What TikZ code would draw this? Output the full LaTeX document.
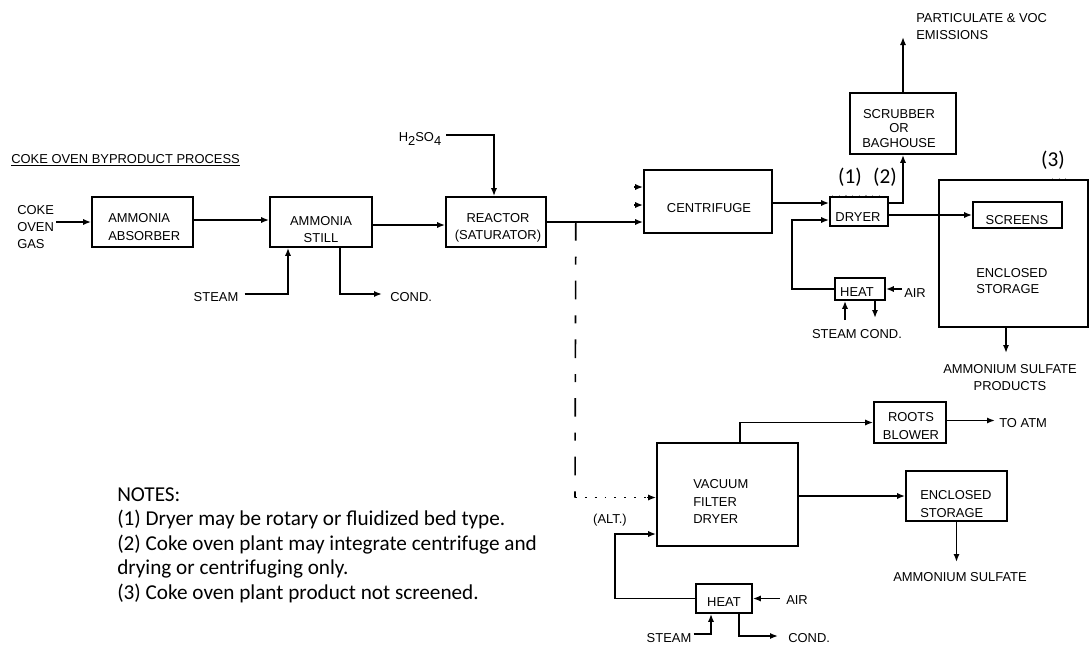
\documentclass[tikz,border=0pt]{standalone}
\usepackage{fontspec}
\setmainfont{Liberation Sans}
\newfontfamily\notesfont{Carlito}
\usetikzlibrary{arrows.meta,calc}
\begin{document}
\begin{tikzpicture}[x=0.75pt,y=-0.75pt,
 txt/.style={font=\fontsize{9.7}{13}\selectfont, inner sep=1.5pt, align=center},
 txl/.style={txt, align=left, anchor=west},
 box/.style={draw, line width=1.2pt, inner sep=0pt},
 sz/.style 2 args={minimum width=#1*0.75pt, minimum height=#2*0.75pt},
 ln/.style={line width=1.2pt},
 arr/.style={ln, -{Latex[length=6pt,width=4.6pt]}},
 dashdotln/.style={ln, dash pattern=on 14pt off 12pt on 6pt off 12pt},
 dotln/.style={line width=1.4pt, dash pattern=on 1.4pt off 6pt},
 tick/.style={gray!70, line width=0.7pt, dash pattern=on 1pt off 4pt},
 note/.style={font=\notesfont\fontsize{15.9}{18.4}\selectfont, inner sep=0pt, align=left},
]
\useasboundingbox (0,0) rectangle (1090,646);

% boxes
\node[box, sz={101}{50}] (abs) at (142.5,222) {};
\node[box, sz={102}{50}] (still) at (321,222) {};
\node[box, sz={100}{50}] (reac) at (496,222) {};
\node[box, sz={128}{63}] (cent) at (708,201.5) {};
\node[box, sz={106}{61}] (scrub) at (903,123.5) {};
\node[box, sz={58}{29}] (dryer) at (859,211.5) {};
\node[box, sz={50}{22}] (heatA) at (860,289) {};
\node[box, sz={149}{147}] (storA) at (1013.5,253.5) {};
\node[box, sz={89}{26}] (scr) at (1017.5,215) {};
\node[box, sz={141}{103}] (vfd) at (727.5,494.5) {};
\node[box, sz={72}{41}] (blow) at (910,422.5) {};
\node[box, sz={101}{50}] (storB) at (956.5,496) {};
\node[box, sz={56}{29}] (heatB) at (724,598.5) {};

% texts
\node[txt, anchor=west] (title) at (9,160) {\underline{COKE OVEN BYPRODUCT PROCESS}};
\node[txl] (cog) at (15,227) {COKE\\OVEN\\GAS};
\node[txl] (absT) at (106,227) {AMMONIA\\ABSORBER};
\node[txt] (stillT) at (321,229.5) {AMMONIA\\STILL};
\node[txt] (reacT) at (498,227.5) {REACTOR\\(SATURATOR)};
\node[txt] (h2T) at (420,139) {H\raisebox{-3.5pt}{2}SO\raisebox{-3.5pt}{4}};
\node[txt] (steamA) at (216,297) {STEAM};
\node[txl] (condA) at (388,297) {COND.};
\node[txt] (centT) at (709,208) {CENTRIFUGE};
\node[txt, font=\fontsize{9.7}{11}\selectfont] (scrubT) at (899,128.5) {SCRUBBER\\OR\\BAGHOUSE};
\node[txl] (emT) at (914,26.5) {PARTICULATE \& VOC\\EMISSIONS};
\node[txt] (dryerT) at (858,217) {DRYER};
\node[txt] (heatAT) at (857,292) {HEAT};
\node[txl] (airA) at (902,293) {AIR};
\node[txt] (scT) at (857,334) {STEAM COND.};
\node[txt] (scrT) at (1017,220) {SCREENS};
\node[txl, font=\fontsize{9.7}{11.5}\selectfont] (storAT) at (974,281) {ENCLOSED\\STORAGE};
\node[txt] (prodT) at (1010,377.5) {AMMONIUM SULFATE\\PRODUCTS};
\node[note] (n1) at (850,177) {(1)};
\node[note] (n2) at (885,177) {(2)};
\node[note] (n3) at (1053,160) {(3)};
\node[txl] (vfdT) at (691,501.5) {VACUUM\\FILTER\\DRYER};
\node[txt] (altT) at (610,520) {(ALT.)};
\node[txt] (blowT) at (911,426) {ROOTS\\BLOWER};
\node[txl] (atmT) at (997,423) {TO ATM};
\node[txl] (storBT) at (918,504) {ENCLOSED\\STORAGE};
\node[txt] (asT) at (960,577) {AMMONIUM SULFATE};
\node[txt] (heatBT) at (724,602) {HEAT};
\node[txl] (airB) at (784,600) {AIR};
\node[txt] (steamB) at (669,638) {STEAM};
\node[txl] (condB) at (786,638) {COND.};
\node[note, anchor=north west] (notes) at (117,487) {NOTES:\\(1) Dryer may be rotary or fluidized bed type.\\(2) Coke oven plant may integrate centrifuge and\\drying or centrifuging only.\\(3) Coke oven plant product not screened.};

% coordinates
\coordinate (br) at ($(reac.east)+(29,0)$);
\coordinate (alt) at (575,497.5);
\coordinate (sA) at (634,187);
\coordinate (sB) at (634,205);
\coordinate (dIn1) at ($(dryer.west)+(0,-8.5)$);
\coordinate (dIn2) at ($(dryer.west)+(0,8.5)$);
\coordinate (hAs) at ($(heatA.south)+(-15,0)$);
\coordinate (hAc) at ($(heatA.south)+(15,0)$);
\coordinate (hAsB) at (845,320);
\coordinate (hAcB) at (875,318);
\coordinate (emi) at (904,37);
\coordinate (sAo) at ($(storA.south)+(-7.5,0)$);
\coordinate (pA) at (1006,353);
\coordinate (asTop) at (958,562);
\coordinate (hBs) at ($(heatB.south)+(-13,0)$);
\coordinate (hBc) at ($(heatB.south)+(15,0)$);

% connectors
\draw[arr] (cog.east |- abs.west) -- (abs.west);
\draw[arr] ($(abs.east)+(0,-2)$) -- ($(still.west)+(0,-2)$);
\draw[arr] ($(still.east)+(0,3)$) -- ($(reac.west)+(0,3)$);
\draw[arr] ($(steamA.east)+(4,-3)$) -| ($(still.south)+(-33,0)$);
\draw[arr] ($(still.south)+(19,0)$) |- ($(condA.west)+(-6,-3)$);
\draw[arr] ($(h2T.east)+(3,-4)$) -| ($(reac.north)+(-2,0)$);
\draw[arr] (reac.east) -- (reac.east -| cent.west);
\draw[arr] (sA) -- (sA -| cent.west);
\draw[arr] (sB) -- (sB -| cent.west);
\draw[dashdotln] (br) -- (alt);
\draw[dotln] (alt) -- ($(alt -| vfd.west)+(-8,0)$);
\draw[arr] ($(alt -| vfd.west)+(-9,0)$) -- (alt -| vfd.west);
\draw[arr] (dIn1 -| cent.east) -- (dIn1);
\draw[arr] (heatA.west) -- ++(-42,0) |- (dIn2);
\draw[arr] (airA.west |- heatA.east) -- (heatA.east);
\draw[arr] (hAsB) -- (hAs);
\draw[arr] (hAc) -- (hAcB);
\draw[arr] ($(dryer.east)+(0,-8.5)$) -| (scrub.south);
\draw[arr] (scrub.north) -- (scrub.north |- emi);
\draw[arr] (scr.west -| dryer.east) -- (scr.west);
\draw[arr] (sAo) -- (pA);
\draw[arr] ($(vfd.north)+(12.5,0)$) |- (blow.west);
\draw[arr] ($(blow.east)+(0,-2)$) -- ($(blow.east -| atmT.west)+(-2,-2)$);
\draw[arr] (vfd.east |- storB.west) -- (storB.west);
\draw[arr] (storB.south) -- (storB.south |- asTop);
\draw[arr] (heatB.west) -- ++(-80,0) |- ($(vfd.west)+(0,39.5)$);
\draw[arr] ($(airB.west |- heatB.east)+(-4,0)$) -- (heatB.east);
\draw[arr] ($(steamB.east)+(0,-4)$) -| (hBs);
\draw[arr] (hBc) |- ($(condB.west)+(-8,-2)$);

% faint tick marks
\draw[tick] (832,195) -- (880,195);
\draw[tick] (1052,178) -- (1066,178);
\end{tikzpicture}
\end{document}
